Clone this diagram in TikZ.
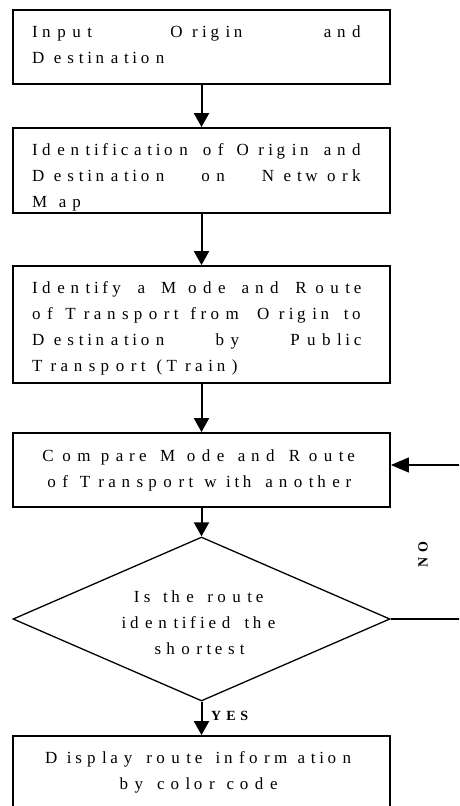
\documentclass[tikz,border=0pt]{standalone}
\usepackage{fontspec}
\setmainfont{Liberation Serif}
\usetikzlibrary{arrows.meta,shapes.geometric,calc}

% Wide tracking: every character gets an advance scaled by \spreadpct/100,
% the glyph itself keeps its size and sits at the left of its cell.
\def\spreadpct{177}
\ExplSyntaxOn
\box_new:N \l_spread_box
\cs_new_protected:Npn \spreadraw #1
  {
    \str_map_inline:nn {#1}
      {
        \str_if_eq:nnTF {##1} {~}
          { \hskip \dim_eval:n { 0.25em * \spreadpct / 100 } plus 1fil \relax }
          {
            \hbox_set:Nn \l_spread_box {##1}
            \hbox_to_wd:nn { \box_wd:N \l_spread_box * \spreadpct / 100 }
              { \box_use_drop:N \l_spread_box \hfil }
          }
      }
  }
\ExplSyntaxOff
\newcommand{\sline}[1]{\hbox{\spreadraw{#1}}}
\newcommand{\fullline}[1]{\hbox to 335pt{\spreadraw{#1}}}

\begin{document}
\begin{tikzpicture}[x=1pt,y=-1pt,
  box/.style={draw, line width=1.8pt, minimum width=377pt, inner sep=0pt},
  decision/.style={draw, diamond, line width=1.3pt, minimum width=377pt,
    minimum height=164pt, inner sep=0pt},
  txt/.style={font=\fontsize{17pt}{26pt}\selectfont, inner sep=0pt,
    align=left, anchor=north west},
  ctxt/.style={font=\fontsize{17pt}{26pt}\selectfont, inner sep=0pt,
    align=center},
  tag/.style={font=\bfseries\fontsize{14pt}{16pt}\selectfont\def\spreadpct{150},
    inner sep=0pt},
  flow/.style={line width=2pt, -{Triangle[width=15pt,length=14pt]}},
  loopline/.style={line width=1.2pt, -{Triangle[width=15pt,length=18pt]}}]
\useasboundingbox (0,0) rectangle (459,806);
\clip (0,0) rectangle (459,806);

% process boxes
\node[box, minimum height=74pt]  (b1) at (201.5,47)    {};
\node[box, minimum height=85pt]  (b2) at (201.5,170.5) {};
\node[box, minimum height=117pt] (b3) at (201.5,324.5) {};
\node[box, minimum height=74pt]  (b4) at (201.5,470)
  [ctxt] {\sline{Compare Mode and Route}\\\sline{of Transport with another}};
\node[decision] (dia) at (201.5,619) {};
\node[box, minimum height=120pt] (b5) at (201.5,796) {};

% box texts
\node[txt] (t1) at (32,25.4)
  {\fullline{Input Origin and}\\\sline{Destination}};
\node[txt] (t2) at (32,143.4)
  {\fullline{Identification of Origin and}\\\fullline{Destination on Network}\\\sline{Map}};
\node[txt] (t3) at (32,281.4)
  {\fullline{Identify a Mode and Route}\\\fullline{of Transport from Origin to}\\\fullline{Destination by Public}\\\sline{Transport (Train)}};
\node[ctxt, anchor=north] (td) at (201.5,590.4)
  {\sline{Is the route}\\\sline{identified the}\\\sline{shortest}};
\node[ctxt, anchor=north] (t5) at (201.5,751.4)
  {\sline{Display route information}\\\sline{by color code}};

% connectors
\draw[flow] (b1.south) -- (b2.north);
\draw[flow] (b2.south) -- (b3.north);
\draw[flow] (b3.south) -- (b4.north);
\draw[flow] (b4.south) -- (dia.north);
\draw[flow] (dia.south) -- (b5.north);
\node[tag, anchor=base west] (yes) at (211,720) {\sline{YES}};

% loop back when the route is not the shortest
\coordinate (back) at ($(b4.east)+(0,-5)$);
\coordinate (side) at (470,0);
\draw[loopline] (dia.east) -- (dia.east -| side) -- (back -| side) -- (back);
\node[tag, rotate=90] (no) at (423,552) {\sline{NO}};
\end{tikzpicture}
\end{document}
